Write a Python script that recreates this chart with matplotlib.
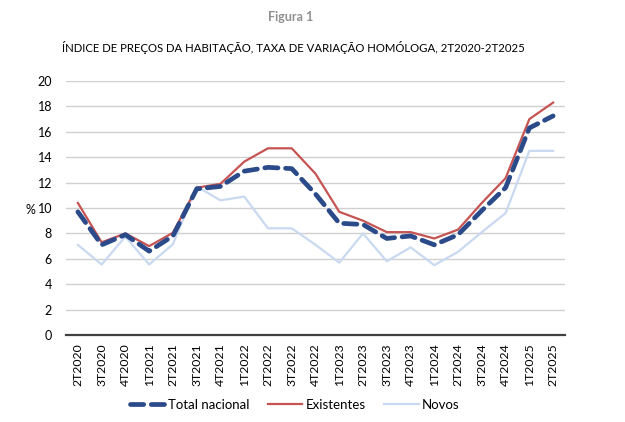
import numpy as np
import matplotlib
matplotlib.use('Agg')
import matplotlib.pyplot as plt

plt.rcParams['font.family'] = ['Lato', 'DejaVu Sans']

# quarters shown on the x axis
quarters = ['2T2020', '3T2020', '4T2020', '1T2021', '2T2021', '3T2021', '4T2021',
            '1T2022', '2T2022', '3T2022', '4T2022', '1T2023', '2T2023', '3T2023',
            '4T2023', '1T2024', '2T2024', '3T2024', '4T2024', '1T2025', '2T2025']

# year-on-year rate of change (%)
total_nacional = [9.7, 7.1, 7.9, 6.6, 7.8, 11.5, 11.7, 12.9, 13.2, 13.1, 11.1,
                  8.8, 8.7, 7.6, 7.8, 7.1, 7.9, 9.8, 11.6, 16.3, 17.25]
existentes = [10.4, 7.3, 8.0, 7.0, 8.05, 11.6, 11.9, 13.65, 14.7, 14.7, 12.7,
              9.7, 9.0, 8.1, 8.1, 7.6, 8.3, 10.4, 12.35, 17.0, 18.3]
novos = [7.1, 5.55, 7.75, 5.55, 7.15, 11.7, 10.6, 10.9, 8.4, 8.4, 7.1,
         5.7, 8.0, 5.8, 6.9, 5.5, 6.55, 8.1, 9.6, 14.5, 14.5]

x = np.arange(len(quarters))

fig = plt.figure(figsize=(6.25, 4.22), dpi=100)
ax = fig.add_axes([66/625, 1-335/422, (565-66)/625, (335-81)/422])

ax.plot(x, novos, color='#c9d9f0', lw=1.6, label='Novos', zorder=3)
ax.plot(x, existentes, color='#c55453', lw=1.6, label='Existentes', zorder=4)
ax.plot(x, total_nacional, color='#2b4a8a', lw=3.4, linestyle=(0, (2.8, 1.6)),
        dash_capstyle='round', label='Total nacional', zorder=5)

ax.set_xlim(-0.5, len(quarters)-0.5)
ax.set_ylim(0, 20)
ax.set_yticks(np.arange(0, 21, 2))
ax.set_xticks(x)
ax.set_xticklabels(quarters, rotation=90, fontsize=8.8)
ax.tick_params(axis='y', labelsize=9, length=0, pad=10)
ax.tick_params(axis='x', length=0, pad=6)

ax.grid(axis='y', color='#d0d0d0', lw=1)
ax.set_axisbelow(True)
for s in ['top', 'right', 'left']:
    ax.spines[s].set_visible(False)
ax.spines['bottom'].set_color('#404040')
ax.spines['bottom'].set_linewidth(1.6)

fig.text(30/625, 1-210/422, '%', fontsize=9, ha='center', va='center')

fig.text(291/625, 1-17/422, 'Figura 1', fontsize=9, color='#909090',
         fontweight='bold', ha='center', va='center')
fig.text(62/625, 1-47/422,
         'ÍNDICE DE PREÇOS DA HABITAÇÃO, TAXA DE VARIAÇÃO HOMÓLOGA, 2T2020-2T2025',
         fontsize=8.2, ha='left', va='center')

handles, labels = ax.get_legend_handles_labels()
order = [2, 1, 0]
fig.legend([handles[i] for i in order], [labels[i] for i in order],
           loc='center', bbox_to_anchor=(295/625, 1-405/422), ncol=3,
           frameon=False, fontsize=9.5, handlelength=2.6, columnspacing=1.4,
           handletextpad=0.25)

fig.savefig('out.png', dpi=100)
